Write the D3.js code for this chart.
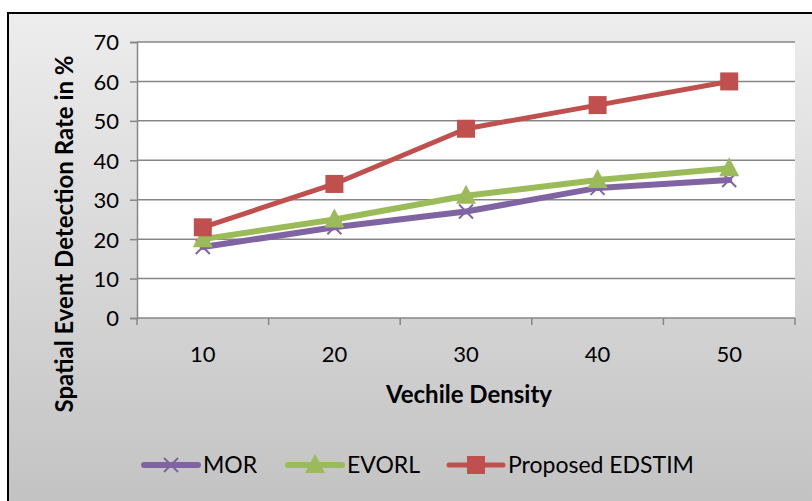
<!DOCTYPE html>
<html><head><meta charset="utf-8">
<script src="https://cdn.jsdelivr.net/npm/d3@7"></script>
<style>body{margin:0;overflow:hidden;background:#fff}svg{display:block}</style>
</head><body>
<svg id="c" width="812" height="501"></svg>
<script>
const categories = [10, 20, 30, 40, 50];
const yTicks = [0, 10, 20, 30, 40, 50, 60, 70];
const morValues = [18, 23, 27, 33, 35];
const evorlValues = [20, 25, 31, 35, 38];
const edstimValues = [23, 34, 48, 54, 60];
const seriesNames = ["MOR", "EVORL", "Proposed EDSTIM"];

const series = [
  {name: seriesNames[0], values: morValues, color: "#8064A2", marker: "x"},
  {name: seriesNames[1], values: evorlValues, color: "#9BBB59", marker: "tri"},
  {name: seriesNames[2], values: edstimValues, color: "#C0504D", marker: "sq"}
];

const svg = d3.select("#c");
const font = "Lato, 'Open Sans', sans-serif";

const defs = svg.append("defs");
const grad = defs.append("linearGradient").attr("id","bg").attr("x1",0).attr("y1",0).attr("x2",0).attr("y2",1);
grad.append("stop").attr("offset","0%").attr("stop-color","#ededed");
grad.append("stop").attr("offset","100%").attr("stop-color","#c2c2c2");

svg.append("rect").attr("x",8).attr("y",13).attr("width",820).attr("height",500)
  .attr("fill","url(#bg)").attr("stroke","#000").attr("stroke-width",2);

const L = 137, R = 795, T = 42, B = 318;
const x = d3.scaleBand().domain(categories).range([L, R]);
const y = d3.scaleLinear().domain([0, 70]).range([B, T]);

svg.append("rect").attr("x",L).attr("y",T).attr("width",R-L).attr("height",B-T).attr("fill","#fff");

// gridlines + y axis
const yAxis = d3.axisLeft(y).tickValues(yTicks).tickSize(7).tickPadding(11);
const gy = svg.append("g").attr("transform",`translate(${L},0)`).call(yAxis);
gy.select(".domain").attr("stroke","#868686").attr("stroke-width",1.5);
gy.selectAll(".tick line").attr("stroke","#868686").attr("stroke-width",1.5);
gy.selectAll(".tick text").attr("font-family",font).attr("font-size",22).attr("fill","#000").attr("dy","0.36em");
svg.append("g").selectAll("line").data(yTicks.filter(d=>d>0)).join("line")
  .attr("x1",L).attr("x2",R).attr("y1",d=>y(d)).attr("y2",d=>y(d))
  .attr("stroke","#868686").attr("stroke-width",1.5);

// x axis
const xb = d3.scaleLinear().domain([0,5]).range([L,R]);
const gx = svg.append("g").attr("transform",`translate(0,${B})`);
gx.append("line").attr("x1",L).attr("x2",R).attr("stroke","#868686").attr("stroke-width",1.5);
gx.selectAll("line.t").data(d3.range(6)).join("line").attr("class","t")
  .attr("x1",d=>xb(d)).attr("x2",d=>xb(d)).attr("y1",0).attr("y2",7)
  .attr("stroke","#868686").attr("stroke-width",1.5);
gx.selectAll("text").data(categories).join("text")
  .attr("x",d=>x(d)+x.bandwidth()/2).attr("y",44).attr("text-anchor","middle")
  .attr("font-family",font).attr("font-size",22).text(d=>d);

svg.append("text").attr("x",469).attr("y",403).attr("text-anchor","middle")
  .attr("font-family",font).attr("font-weight","bold").attr("font-size",24).text("Vechile Density");
svg.append("text").attr("transform","translate(73,234) rotate(-90)").attr("text-anchor","middle")
  .attr("font-family",font).attr("font-weight","bold").attr("font-size",24).text("Spatial Event Detection Rate in %");

function drawMarker(g, type, cx, cy, color){
  if(type==="x"){
    g.append("path").attr("d",`M${cx-7},${cy-7}L${cx+7},${cy+7}M${cx-7},${cy+7}L${cx+7},${cy-7}`)
      .attr("stroke",color).attr("stroke-width",2).attr("fill","none");
  } else if(type==="tri"){
    g.append("path").attr("d",`M${cx},${cy-11}L${cx+10},${cy+8}L${cx-10},${cy+8}Z`).attr("fill",color);
  } else {
    g.append("rect").attr("x",cx-9).attr("y",cy-9).attr("width",18).attr("height",18).attr("fill",color);
  }
}

const line = d3.line().x((d,i)=>x(categories[i])+x.bandwidth()/2).y(d=>y(d));
series.forEach(s=>{
  const g = svg.append("g");
  g.append("path").attr("d",line(s.values)).attr("fill","none").attr("stroke",s.color)
    .attr("stroke-width",s.marker==="sq"?5:6).attr("stroke-linejoin","round").attr("stroke-linecap","round");
  s.values.forEach((v,i)=>drawMarker(g,s.marker,x(categories[i])+x.bandwidth()/2,y(v),s.color));
});

// legend
const legX = [144, 288, 449];
series.forEach((s,i)=>{
  const g = svg.append("g");
  const ly = 465;
  g.append("line").attr("x1",legX[i]).attr("x2",legX[i]+54).attr("y1",ly).attr("y2",ly)
    .attr("stroke",s.color).attr("stroke-width",s.marker==="sq"?5:6).attr("stroke-linecap","round");
  drawMarker(g,s.marker,legX[i]+27,ly,s.color);
  g.append("text").attr("x",legX[i]+59).attr("y",ly+8).attr("font-family",font).attr("font-size",23).text(s.name);
});
</script>
</body></html>
